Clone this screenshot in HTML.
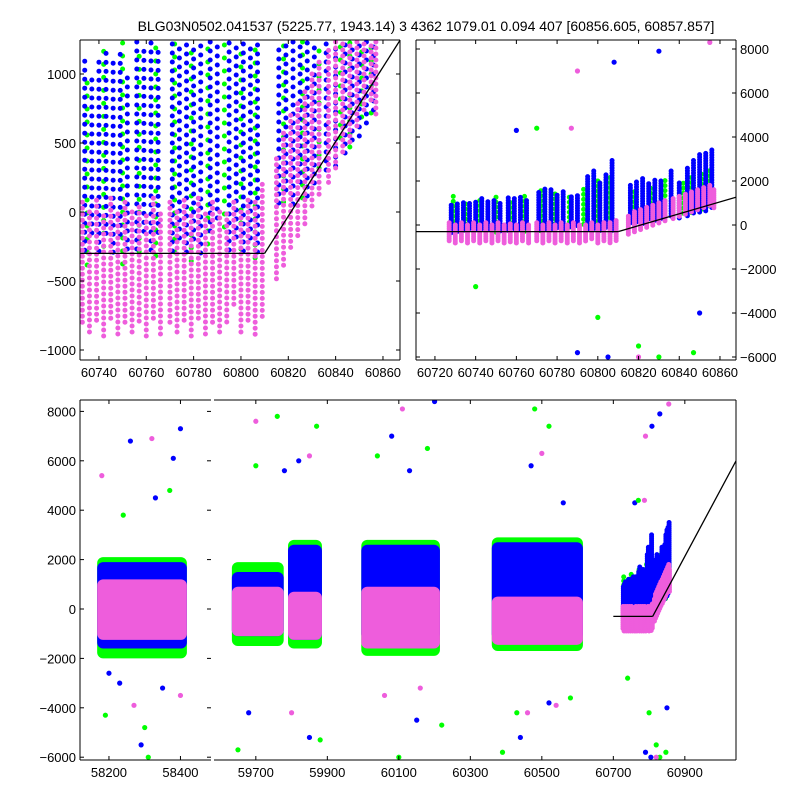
<!DOCTYPE html>
<html><head><meta charset="utf-8"><style>
html,body{margin:0;padding:0;background:#fff;width:800px;height:800px;overflow:hidden;}
svg{display:block;font-family:"Liberation Sans",sans-serif;}
</style></head><body>
<svg id="chart" width="800" height="800" viewBox="0 0 800 800" xmlns="http://www.w3.org/2000/svg">
<rect width="800" height="800" fill="#fff"/>
<text x="426" y="31" font-size="14" text-anchor="middle">BLG03N0502.041537 (5225.77, 1943.14)   3 4362 1079.01 0.094 407 [60856.605, 60857.857]</text>
<defs>
<clipPath id="cTL"><rect x="80" y="40" width="320" height="320"/></clipPath>
<clipPath id="cTR"><rect x="416" y="40" width="320" height="320"/></clipPath>
<clipPath id="cB1"><rect x="80" y="400" width="131" height="360"/></clipPath>
<clipPath id="cB2"><rect x="214" y="400" width="522" height="360"/></clipPath>
</defs>
<g id="layer"></g>
</svg>
<script>
// seasons: [start, end]
const seasons = [[58167,58418],[59633,59778],[59790,59885],[59995,60215],[60360,60615]];
const blueBand = [[-1600,1900],[-1100,1500],[-1250,2600],[-1250,2600],[-1250,2700]];
const greenBand = [[-2000,2100],[-1500,1900],[-1600,2800],[-1900,2800],[-1700,2900]];
const pinkBand = [[-1250,1200],[-1100,900],[-1250,700],[-1600,900],[-1450,500]];
// last season nights: [t, lo, hi]
const blueNights = [[60728,-400,900],[60731,-300,1000],[60734,-300,1100],[60737,-200,1000],[60740,-300,1100],[60743,-200,1200],[60746,-300,1100],[60749,-200,1200],[60752,-300,1000],[60756,-300,1300],[60759,-200,1200],[60762,-300,1300],[60765,-200,1200],[60771,-300,1500],[60774,-200,1700],[60777,-300,1600],[60780,-200,1400],[60783,-300,1600],[60787,-200,1300],[60790,-100,1400],[60795,-300,2200],[60798,-200,2500],[60801,-300,2000],[60804,-200,2300],[60807,-300,3000],[60816,0,1800],[60819,100,2000],[60822,0,2200],[60825,200,1900],[60828,100,2100],[60831,200,2000],[60836,300,2500],[60840,300,2000],[60844,400,2600],[60847,500,3000],[60850,500,3200],[60853,600,3300],[60856,700,3500]];
const greenNights = [[60729,-500,1300],[60735,-400,1000],[60742,-300,1200],[60750,-400,1400],[60757,-300,1200],[60764,-400,1300],[60772,-300,1600],[60779,-400,1500],[60786,-300,1400],[60793,-200,1800],[60800,-300,2000],[60806,-400,2200],[60818,0,1600],[60826,100,1800],[60833,300,2200],[60842,500,1900],[60846,400,2200],[60851,600,2400],[60855,700,2600]];
const pinkNights = [[60727,-800,100],[60730,-900,0],[60733,-800,100],[60736,-900,0],[60739,-800,100],[60742,-900,0],[60745,-800,100],[60748,-900,0],[60751,-800,100],[60754,-900,0],[60757,-800,50],[60760,-900,0],[60763,-800,100],[60766,-900,0],[60770,-800,100],[60773,-900,0],[60776,-800,100],[60779,-900,0],[60782,-800,100],[60785,-900,0],[60788,-800,100],[60791,-900,0],[60794,-800,0],[60797,-700,100],[60800,-900,0],[60803,-800,100],[60806,-900,100],[60809,-800,200],[60815,-500,400],[60818,-400,600],[60821,-300,700],[60824,-200,800],[60827,-100,900],[60830,0,1000],[60833,100,1100],[60837,200,1200],[60840,300,1300],[60843,400,1400],[60846,500,1500],[60849,600,1600],[60852,700,1700],[60855,800,1800],[60857,700,1600]];
// outliers: [t, v]
const blueOut = [[58230,-3000],[58260,6800],[58290,-5500],[58330,4500],[58380,6100],[58400,7300],[58200,-2600],[58350,-3200],[59680,-4200],[59780,5600],[59850,-5200],[59820,6000],[60080,7000],[60150,-4500],[60200,8400],[60130,5600],[60470,5800],[60520,-3800],[60560,4300],[60440,-5200],[60808,7400],[60830,7900],[60805,-6000],[60760,4300],[60850,-4000],[60790,-5800]];
const greenOut = [[58190,-4300],[58240,3800],[58300,-4800],[58310,-6000],[58370,4800],[59650,-5700],[59700,5800],[59760,7800],[59870,7400],[59880,-5300],[60040,6200],[60100,-6000],[60180,6500],[60220,-4700],[60390,-5800],[60480,8100],[60520,7400],[60430,-4200],[60580,-3600],[60740,-2800],[60770,4400],[60830,-6000],[60847,-5800],[60800,-4200],[60820,-5500]];
const pinkOut = [[58180,5400],[58270,-3900],[58320,6900],[58400,-3500],[59700,7600],[59800,-4200],[59850,6200],[60060,-3500],[60110,8100],[60160,-3200],[60460,-4200],[60500,6300],[60540,-3900],[60790,7000],[60820,-6000],[60855,8300],[60787,4400]];
// model line: [t, v]
const modelTL = [[60700,-300],[60810,-300],[61050,6180]];
const tlXTicks = [60740,60760,60780,60800,60820,60840,60860];
const tlYTicks = [-1000,-500,0,500,1000];
const trXTicks = [60720,60740,60760,60780,60800,60820,60840,60860];
const trYTicks = [-6000,-4000,-2000,0,2000,4000,6000,8000];
const bYTicks = [-6000,-4000,-2000,0,2000,4000,6000,8000];
const b1XTicks = [58200,58400];
const b2XTicks = [59700,59900,60100,60300,60500,60700,60900];

const NS='http://www.w3.org/2000/svg';
const layer=document.getElementById('layer');
function el(tag,attrs,parent){const e=document.createElementNS(NS,tag);for(const k in attrs)e.setAttribute(k,attrs[k]);(parent||layer).appendChild(e);return e;}
const BLUE='#0000ff',GREEN='#00ff00',PINK='#ee5ddc';
const clampv=(v,a,b)=>Math.max(a,Math.min(b,v));
// clip a segment to a box (returns null if outside)
function clipSeg(x1,y1,x2,y2,bx,by,bw,bh){
 let t0=0,t1=1;const dx=x2-x1,dy=y2-y1;
 const P=[-dx,dx,-dy,dy],Q=[x1-bx,bx+bw-x1,y1-by,by+bh-y1];
 for(let i=0;i<4;i++){
  if(P[i]===0){if(Q[i]<0)return null;continue;}
  const r=Q[i]/P[i];
  if(P[i]<0){if(r>t1)return null;if(r>t0)t0=r;}else{if(r<t0)return null;if(r<t1)t1=r;}
 }
 return [x1+t0*dx,y1+t0*dy,x1+t1*dx,y1+t1*dy];
}

const panels=[
 {name:'top-left',clip:'cTL',box:[80,40,320,320],x:t=>80+(t-60732)*2.367,y:v=>212-v*0.138,xt:tlXTicks,yt:tlYTicks,yRight:false,gaps:[13,9,6]},
 {name:'top-right',clip:'cTR',box:[416,40,320,320],x:t=>416+(t-60710.7)*2.036,y:v=>225-v*0.022,xt:trXTicks,yt:trYTicks,yRight:true,gaps:[5,2.5,2]},
 {name:'bottom-left',clip:'cB1',box:[80,400,131,360],x:t=>80+(t-58119)*0.3575,y:v=>609-v*0.0247,xt:b1XTicks,yt:bYTicks,yRight:false,noRight:true,gaps:[4,2,2]},
 {name:'bottom-right',clip:'cB2',box:[214,400,522,360],x:t=>214+(t-59583)*0.3575,y:v=>609-v*0.0247,xt:b2XTicks,yt:[],yRight:false,noLeft:true,gaps:[4,2,2]}
];

panels.forEach(p=>{
 const [bx,by,bw,bh]=p.box;
 const inX=x=>x>=bx-3&&x<=bx+bw+3;
 const g=el('g',{'clip-path':'url(#'+p.clip+')'});
 
 
 const bands=[[greenBand,GREEN],[blueBand,BLUE],[pinkBand,PINK]];
 bands.forEach(([band,col])=>{
  seasons.forEach((s,i)=>{
   let x0=clampv(p.x(s[0]),bx,bx+bw),x1=clampv(p.x(s[1]),bx,bx+bw);
   if(x1-x0<1)return;
   const y0=clampv(p.y(band[i][1]),by,by+bh),y1=clampv(p.y(band[i][0]),by,by+bh);
   if(y1-y0<1)return;
   const r=el('rect',{x:x0,y:y0,width:x1-x0,height:y1-y0,fill:col,rx:6},g);
   
   
  });
 });
 const nightSets=[[greenNights,GREEN,p.gaps[0]],[blueNights,BLUE,p.gaps[1]],[pinkNights,PINK,p.gaps[2]]];
 nightSets.forEach(([arr,col,gap])=>{
  arr.forEach((n,i)=>{
   const x=p.x(n[0]);if(!inX(x))return;
   const ya=clampv(p.y(n[2]),by+2,by+bh-2),yb=clampv(p.y(n[1]),by+2,by+bh-2);
   if(yb-ya<0.5)return;
   const l=el('line',{x1:x,x2:x,y1:ya,y2:yb,stroke:col,'stroke-width':5,'stroke-linecap':'round','stroke-dasharray':'0 '+gap,'stroke-dashoffset':(i*4)%gap},g);
   
   
  });
 });
 [[blueOut,BLUE],[greenOut,GREEN],[pinkOut,PINK]].forEach(([arr,col])=>{
  arr.forEach(o=>{
   const cx=p.x(o[0]),cy=p.y(o[1]);
   if(cx<bx||cx>bx+bw||cy<by||cy>by+bh)return;
   const c=el('circle',{cx:cx,cy:cy,r:2.6,fill:col},g);
   
   
  });
 });
 for(let i=0;i<modelTL.length-1;i++){
  const s=clipSeg(p.x(modelTL[i][0]),p.y(modelTL[i][1]),p.x(modelTL[i+1][0]),p.y(modelTL[i+1][1]),bx,by,bw,bh);
  if(!s)continue;
  const ml=el('line',{x1:s[0],y1:s[1],x2:s[2],y2:s[3],stroke:'#000','stroke-width':1.3},g);
  
  
 }
 const ax=el('g',{stroke:'#000','stroke-width':1,fill:'none'});
 
 
 el('line',{x1:bx,y1:by,x2:bx+bw,y2:by},ax);
 el('line',{x1:bx,y1:by+bh,x2:bx+bw,y2:by+bh},ax);
 if(!p.noLeft) el('line',{x1:bx,y1:by,x2:bx,y2:by+bh},ax);
 if(!p.noRight) el('line',{x1:bx+bw,y1:by,x2:bx+bw,y2:by+bh},ax);
 p.xt.forEach(t=>{
  const x=p.x(t);
  el('line',{x1:x,y1:by+bh,x2:x,y2:by+bh-4},ax);
  el('line',{x1:x,y1:by,x2:x,y2:by+4},ax);
  const tx=el('text',{x:x,y:by+bh+17,'font-size':13,'text-anchor':'middle',fill:'#000',stroke:'none'});
  tx.textContent=t;
  
  
 });
 p.yt.forEach(v=>{
  const y=p.y(v);
  el('line',{x1:bx,y1:y,x2:bx+4,y2:y},ax);
  el('line',{x1:bx+bw,y1:y,x2:bx+bw-4,y2:y},ax);
  const tx=el('text',{x:p.yRight?bx+bw+4:bx-4,y:y+5,'font-size':13,'text-anchor':p.yRight?'start':'end',fill:'#000',stroke:'none'});
  tx.textContent=(v<0?'\u2212'+Math.abs(v):v);
  
  
 });
});
</script>
</body></html>
